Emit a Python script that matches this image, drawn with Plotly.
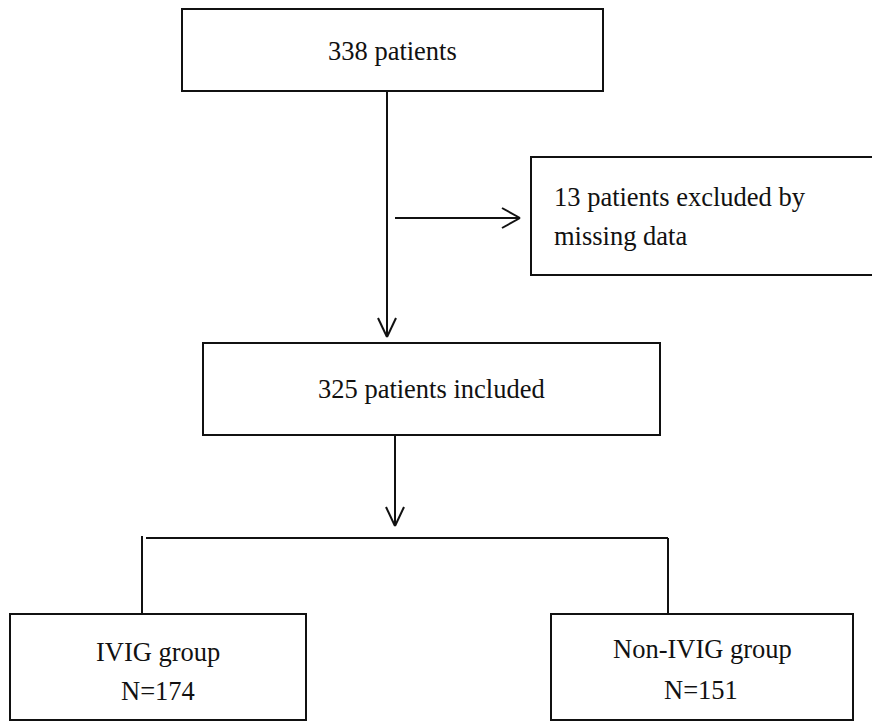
import plotly.graph_objects as go

# ---- data (flow counts and labels) ----
total_patients = 338
excluded_patients = 13
excluded_reason = ["excluded by", "missing data"]
included_patients = 325
group_names = ["IVIG group", "Non-IVIG group"]
group_sizes = [174, 151]

# ---- layout geometry (pixels, y downwards) ----
W, H = 880, 723
OFF = 8  # page body margin
FONT = dict(family="Liberation Serif, Times New Roman, serif", size=26.5, color="#111111")
LINE = dict(color="#111111", width=2)

boxes = {
    "top": (182, 9, 603, 91),
    "mid": (203, 343, 660, 435),
    "left": (10, 614, 306, 720),
    "right": (551, 614, 853, 720),
}

fig = go.Figure()
shapes = []

def rect(b):
    x0, y0, x1, y1 = b
    shapes.append(dict(type="rect", xref="x", yref="y", x0=x0, y0=y0, x1=x1, y1=y1,
                       line=LINE, fillcolor="rgba(0,0,0,0)"))

def seg(x0, y0, x1, y1):
    shapes.append(dict(type="line", xref="x", yref="y", x0=x0, y0=y0, x1=x1, y1=y1, line=LINE))

def varrow(x, y0, y1):
    seg(x, y0, x, y1)
    seg(x - 9, y1 - 19, x, y1)
    seg(x + 9, y1 - 19, x, y1)

def harrow(y, x0, x1):
    seg(x0, y, x1, y)
    seg(x1 - 18, y - 10, x1, y)
    seg(x1 - 18, y + 10, x1, y)

for b in boxes.values():
    rect(b)

# excluded box (cut at right edge)
shapes.append(dict(type="path", xref="x", yref="y",
                   path="M 890 157 L 531 157 L 531 275 L 890 275",
                   line=LINE))

varrow(387, 91, 337)
harrow(218, 395, 520)
varrow(395, 435, 526)

# branch
seg(146, 538, 668, 538)
seg(142, 536, 142, 614)
seg(668, 538, 668, 614)

fig.update_layout(shapes=shapes)

ann = []
def text(x, y, s, anchor="center"):
    ann.append(dict(x=x, y=y, xref="x", yref="y", text=s, showarrow=False,
                    xanchor=anchor, yanchor="middle", font=FONT))

text(392, 51, f"{total_patients} patients")
text(552, 197, f"{excluded_patients} patients {excluded_reason[0]}", anchor="left")
text(552, 236, excluded_reason[1], anchor="left")
text(431, 389, f"{included_patients} patients included")
text(158, 652, group_names[0])
text(158, 691, f"N={group_sizes[0]}")
text(702, 649, group_names[1])
text(701, 690, f"N={group_sizes[1]}")

fig.update_layout(
    annotations=ann,
    width=W - OFF, height=H - OFF,
    margin=dict(l=0, r=0, t=0, b=0),
    paper_bgcolor="white", plot_bgcolor="white",
    xaxis=dict(range=[OFF, W], visible=False, fixedrange=True),
    yaxis=dict(range=[H, OFF], visible=False, fixedrange=True),
    showlegend=False,
)

fig.write_html("out.html")
